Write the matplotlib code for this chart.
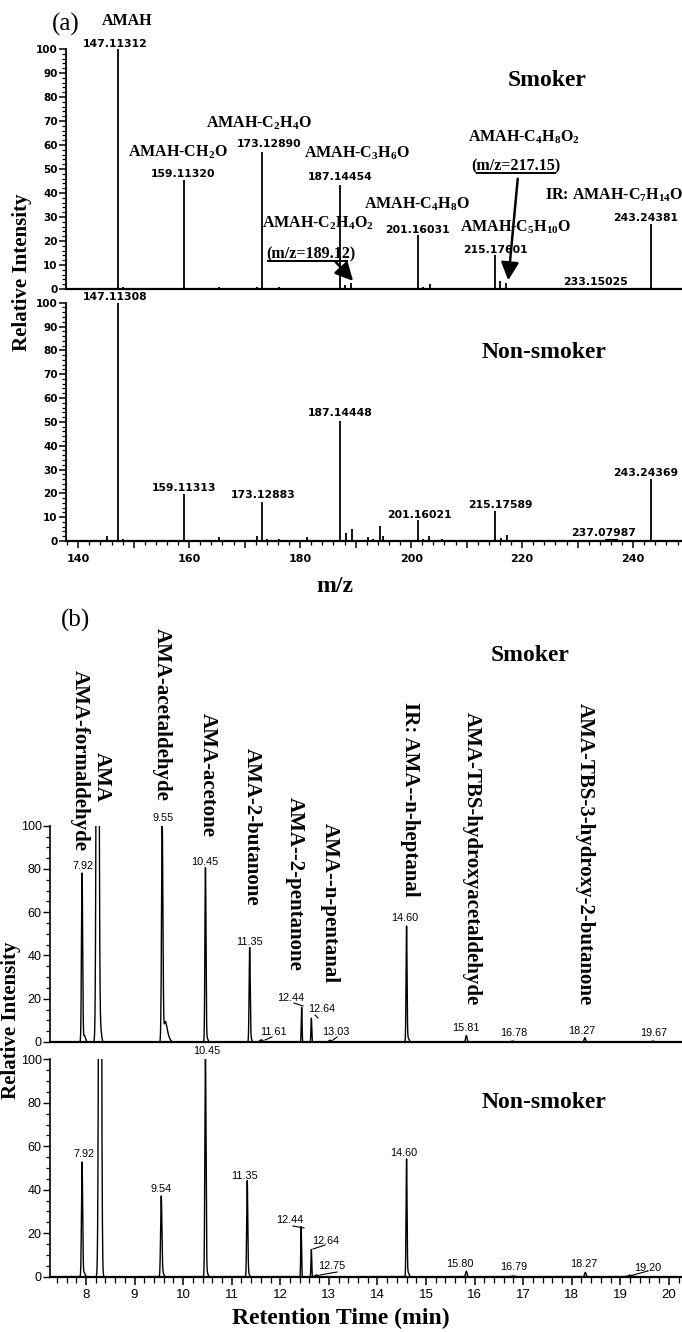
import numpy as np
import matplotlib
matplotlib.use("Agg")
import matplotlib.pyplot as plt
import matplotlib.font_manager as fm
from matplotlib.lines import Line2D
from matplotlib.patches import FancyArrowPatch
from matplotlib.ticker import MultipleLocator, FuncFormatter

# ---- (a) mass spectra: m/z and relative intensity ----
smoker_mz = [147.11, 148.1, 159.11, 160.2, 165.3, 172.2, 173.13, 176.2, 187.14, 188.1,
             189.12, 192.2, 193.0, 195.3, 201.16, 202.2, 203.4, 204.6, 205.5, 215.18,
             216.0, 217.15, 233.15, 243.24, 245.4]
smoker_int = [100, 1, 45.5, 0.5, 1, 1, 57.2, 0.7, 43.3, 1.5,
              2.5, 0.5, 0.5, 0.5, 22.5, 1, 2, 0.5, 0.5, 14.2,
              3.5, 2.5, 0.3, 27, 0.5]

nonsmoker_mz = [145.2, 147.11, 148.1, 159.11, 165.3, 172.3, 173.13, 174.1, 176.2, 181.3,
                183.0, 187.14, 188.3, 189.3, 192.3, 193.2, 194.4, 195.0, 201.16, 202.2,
                203.3, 205.5, 215.18, 216.2, 217.3, 237.08, 243.24]
nonsmoker_int = [2, 100, 1, 19.7, 1.5, 2, 16.2, 0.7, 0.7, 1.5,
                 0.5, 50.5, 3.5, 5, 1.5, 0.7, 6.5, 2, 8.8, 1,
                 2, 0.7, 12.7, 1.2, 2.5, 0.4, 26]

# ---- (b) chromatograms: retention time, height, peak width (min) ----
smoker_rt = [7.92, 7.97, 8.24, 8.30, 9.57, 9.63, 9.68, 10.46, 10.49, 11.37, 11.39, 11.61,
             12.44, 12.64, 13.03, 14.60, 14.63, 15.83, 16.78, 18.27, 19.67]
smoker_h = [78, 3, 500, 6, 99, 8, 3, 80, 2, 42.5, 2, 1,
            16, 11, 0.8, 53, 2, 3, 0.4, 2, 0.4]
smoker_w = [0.012, 0.02, 0.02, 0.02, 0.014, 0.03, 0.04, 0.011, 0.02, 0.011, 0.02, 0.03,
            0.008, 0.008, 0.03, 0.01, 0.02, 0.015, 0.03, 0.015, 0.03]

nonsmoker_rt = [7.92, 7.96, 8.29, 9.55, 9.58, 10.46, 10.49, 11.32, 11.34, 12.43, 12.64,
                12.75, 14.60, 14.63, 15.83, 16.79, 18.28, 19.20]
nonsmoker_h = [52.5, 2, 500, 36.5, 2, 100, 2, 43, 2, 23, 12.5,
               0.8, 53.5, 2, 2.5, 0.3, 2, 0.7]
nonsmoker_w = [0.012, 0.02, 0.02, 0.013, 0.02, 0.012, 0.02, 0.011, 0.02, 0.008, 0.008,
               0.03, 0.01, 0.02, 0.015, 0.03, 0.015, 0.04]

W, H = 682, 1332
names = {f.name for f in fm.fontManager.ttflist}
NARROW = "Liberation Sans Narrow" if "Liberation Sans Narrow" in names else "Liberation Sans"
SERIF = "Liberation Serif"
WIDE = "DejaVu Sans"

plt.rcParams["mathtext.fontset"] = "custom"
plt.rcParams["mathtext.rm"] = "Liberation Serif:bold"
plt.rcParams["mathtext.it"] = "Liberation Serif:bold"
plt.rcParams["mathtext.bf"] = "Liberation Serif:bold"


def fxy(x, y):
    return x / W, 1 - y / H


def box(x0, y0, x1, y1):
    return [x0 / W, 1 - y1 / H, (x1 - x0) / W, (y1 - y0) / H]


fig = plt.figure(figsize=(W / 100, H / 100), dpi=100)

ax_a1 = fig.add_axes(box(66, 49, 682, 289))
ax_a2 = fig.add_axes(box(66, 302.7, 682, 541))
ax_b1 = fig.add_axes(box(50, 825.7, 682, 1042))
ax_b2 = fig.add_axes(box(50, 1059.3, 682, 1276.7))

# ---- panel (a) ----
for ax, mz, inten in [(ax_a1, smoker_mz, smoker_int), (ax_a2, nonsmoker_mz, nonsmoker_int)]:
    ax.vlines(mz, 0, inten, color="black", lw=1.3)
    ax.set_xlim(137.8, 248.8)
    ax.set_ylim(0, 100)
    for s in ["top", "right"]:
        ax.spines[s].set_visible(False)
    ax.spines["left"].set_linewidth(1.3)
    ax.spines["bottom"].set_linewidth(1.6)
    ax.yaxis.set_major_locator(MultipleLocator(10))
    ax.yaxis.set_minor_locator(MultipleLocator(2))
    ax.tick_params(axis="y", which="major", length=5, width=1.1, pad=1)
    ax.tick_params(axis="y", which="minor", length=3, width=0.9)
    for lab in ax.get_yticklabels():
        lab.set_fontfamily(WIDE)
        lab.set_fontweight("bold")
        lab.set_fontsize(7.5)

ax_a1.tick_params(axis="x", which="both", bottom=False, labelbottom=False)
ax_a2.xaxis.set_major_locator(MultipleLocator(10))
ax_a2.xaxis.set_minor_locator(MultipleLocator(2))
ax_a2.xaxis.set_major_formatter(FuncFormatter(lambda v, p: "%d" % v if round(v) % 20 == 0 else ""))
ax_a2.tick_params(axis="x", which="major", length=5, width=1.1, pad=4)
ax_a2.tick_params(axis="x", which="minor", length=3, width=0.9)
for lab in ax_a2.get_xticklabels():
    lab.set_fontfamily(WIDE)
    lab.set_fontweight("bold")
    lab.set_fontsize(8)

# ---- panel (b) ----
t = np.linspace(7.26, 20.27, 14000)
for ax, rts, hs, ws in [(ax_b1, smoker_rt, smoker_h, smoker_w),
                        (ax_b2, nonsmoker_rt, nonsmoker_h, nonsmoker_w)]:
    trace = np.zeros_like(t)
    for rt, h, w in zip(rts, hs, ws):
        trace += h * np.exp(-0.5 * ((t - rt) / w) ** 2)
    ax.plot(t, trace, color="black", lw=1.0)
    ax.set_xlim(7.26, 20.27)
    ax.set_ylim(0, 100)
    for s in ["top", "right"]:
        ax.spines[s].set_visible(False)
    ax.spines["left"].set_linewidth(1.2)
    ax.spines["bottom"].set_linewidth(1.6)
    ax.yaxis.set_major_locator(MultipleLocator(20))
    ax.yaxis.set_minor_locator(MultipleLocator(5))
    ax.tick_params(axis="y", which="major", length=5, width=1.0, pad=1)
    ax.tick_params(axis="y", which="minor", length=3, width=0.9)
    for lab in ax.get_yticklabels():
        lab.set_fontfamily(NARROW)
        lab.set_fontsize(9)

ax_b1.tick_params(axis="x", which="both", bottom=False, labelbottom=False)
ax_b2.xaxis.set_major_locator(MultipleLocator(1))
ax_b2.xaxis.set_minor_locator(MultipleLocator(0.2))
ax_b2.tick_params(axis="x", which="major", length=6, width=1.1, pad=3)
ax_b2.tick_params(axis="x", which="minor", length=4, width=0.9)
for lab in ax_b2.get_xticklabels():
    lab.set_fontfamily(NARROW)
    lab.set_fontsize(9.5)

# ---- text helpers ----
def serif(x, y, s, size=11.5, **kw):
    fig.text(*fxy(x, y), s, family=SERIF, weight="bold", fontsize=size, **kw)


def num_a(x, y, s):
    fig.text(*fxy(x, y), s, family=WIDE, weight="bold", fontsize=7.8, ha="center", va="center")


def num_b(x, y, s):
    fig.text(*fxy(x, y), s, family=NARROW, fontsize=7.8, ha="center", va="center")


def line(p, q, lw=0.8):
    fig.add_artist(Line2D([p[0] / W, q[0] / W], [1 - p[1] / H, 1 - q[1] / H],
                          transform=fig.transFigure, color="black", lw=lw))


def arrow(p, q):
    fig.add_artist(FancyArrowPatch(fxy(*p), fxy(*q), transform=fig.transFigure,
                                   arrowstyle="-|>,head_length=0.9,head_width=0.45",
                                   mutation_scale=12, lw=1.8, color="black"))


# panel labels
fig.text(*fxy(66, 24), "(a)", family=SERIF, fontsize=18, ha="center", va="center")
fig.text(*fxy(75, 620), "(b)", family=SERIF, fontsize=18, ha="center", va="center")

# (a) smoker annotations
serif(127, 25, "AMAH", ha="center", va="baseline")
serif(178, 157, r"AMAH-CH$_2$O", ha="center", va="baseline")
serif(259, 128, r"AMAH-C$_2$H$_4$O", ha="center", va="baseline")
serif(357, 158, r"AMAH-C$_3$H$_6$O", ha="center", va="baseline")
serif(318, 228, r"AMAH-C$_2$H$_4$O$_2$", ha="center", va="baseline")
serif(311, 258, "(m/z=189.12)", ha="center", va="baseline")
serif(417, 209, r"AMAH-C$_4$H$_8$O", ha="center", va="baseline")
serif(516, 232, r"AMAH-C$_5$H$_{10}$O", ha="center", va="baseline")
serif(524, 142, r"AMAH-C$_4$H$_8$O$_2$", ha="center", va="baseline")
serif(516, 170, "(m/z=217.15)", ha="center", va="baseline")
serif(545, 200, r"IR: AMAH-C$_7$H$_{14}$O", ha="left", va="baseline")
line((268, 261), (347, 261), lw=1.4)
line((477, 173), (555, 173), lw=1.4)
arrow((333, 259), (355, 283))
arrow((518, 176), (508, 283))

smoker_labels = ["147.11312", "159.11320", "173.12890", "187.14454", "201.16031",
                 "215.17601", "233.15025", "243.24381"]
smoker_pos = [(115, 44), (183, 174), (269, 144), (340, 177), (417, 230),
              (495, 250), (595, 282), (646, 218)]
for s, (x, y) in zip(smoker_labels, smoker_pos):
    num_a(x, y, s)

nonsmoker_labels = ["147.11308", "159.11313", "173.12883", "187.14448", "201.16021",
                    "215.17589", "237.07987", "243.24369"]
nonsmoker_pos = [(115, 297), (184, 488), (263, 495), (340, 413), (419, 515),
                 (500, 505), (604, 533), (646, 473)]
for s, (x, y) in zip(nonsmoker_labels, nonsmoker_pos):
    num_a(x, y, s)
line((605, 539), (617, 539))
line((617, 539), (617, 541))

serif(547, 80, "Smoker", size=17, ha="center", va="center")
serif(544, 353, "Non-smoker", size=17, ha="center", va="center")
serif(22, 272, "Relative Intensity", size=15, ha="center", va="center", rotation=90)
serif(335, 586, "m/z", size=17, ha="center", va="center")

# (b) compound names, reading downwards
compounds = ["AMA-formaldehyde", "AMA", "AMA-acetaldehyde", "AMA-acetone", "AMA-2-butanone",
             "AMA--2-pentanone", "AMA--n-pentanal", "IR: AMA--n-heptanal",
             "AMA-TBS-hydroxyacetaldehyde", "AMA-TBS-3-hydroxy-2-butanone"]
compound_pos = [(80, 670), (102, 752), (162, 628), (208, 713), (252, 748),
                (295, 797), (330, 823), (410, 702), (472, 712), (585, 703)]
for s, (x, y) in zip(compounds, compound_pos):
    serif(x, y, s, size=15, ha="center", va="top", rotation=-90)

serif(530, 655, "Smoker", size=17, ha="center", va="center")
serif(544, 1103, "Non-smoker", size=17, ha="center", va="center")
serif(11, 1020, "Relative Intensity", size=15, ha="center", va="center", rotation=90)
serif(341, 1318, "Retention Time (min)", size=17, ha="center", va="center")

smoker_rt_labels = ["7.92", "9.55", "10.45", "11.35", "11.61", "12.44", "12.64", "13.03",
                    "14.60", "15.81", "16.78", "18.27", "19.67"]
smoker_rt_pos = [(83, 866), (163, 818), (205, 862), (250, 942), (273, 1032), (291, 998),
                 (322, 1009), (336, 1032), (405, 918), (466, 1028), (514, 1033),
                 (582, 1031), (654, 1033)]
for s, (x, y) in zip(smoker_rt_labels, smoker_rt_pos):
    num_b(x, y, s)
line((265, 1040), (272, 1037))
line((294, 1003), (303, 1006))
line((315, 1015), (318, 1018))
line((333, 1040), (337, 1037))

nonsmoker_rt_labels = ["7.92", "9.54", "10.45", "11.35", "12.44", "12.64", "12.75",
                       "14.60", "15.80", "16.79", "18.27", "19.20"]
nonsmoker_rt_pos = [(84, 1154), (161, 1189), (207, 1051), (245, 1176), (290, 1220),
                    (326, 1241), (332, 1266), (404, 1153), (460, 1264), (514, 1267),
                    (584, 1264), (648, 1268)]
for s, (x, y) in zip(nonsmoker_rt_labels, nonsmoker_rt_pos):
    num_b(x, y, s)
line((293, 1226), (304, 1228))
line((313, 1249), (325, 1245))
line((320, 1275), (337, 1272))
line((633, 1275), (648, 1271))

fig.savefig("out.png", dpi=100)
